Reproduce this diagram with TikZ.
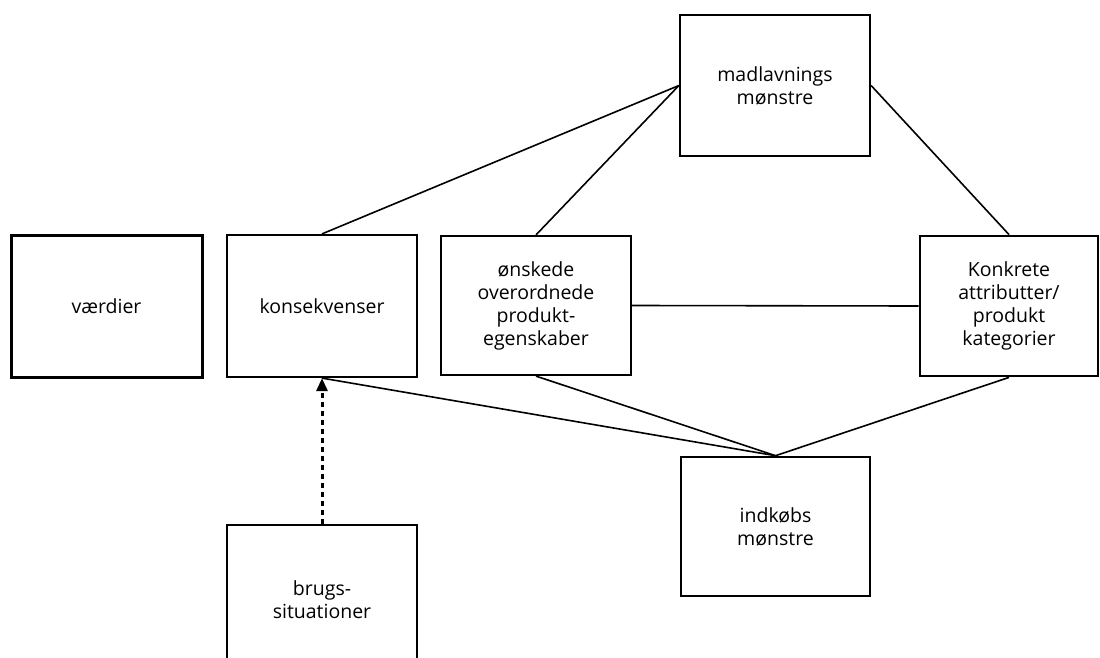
\documentclass[tikz,border=0pt]{standalone}
\usepackage{fontspec}
\setmainfont{Open Sans}
\usetikzlibrary{arrows.meta}
\begin{document}
\begin{tikzpicture}[x=1pt,y=-1pt,
  box/.style={draw=black,line width=2.2pt,inner sep=0pt,align=center,
    font=\fontsize{19.5}{23}\selectfont},
  conn/.style={draw=black,line width=1.6pt},
  dotarrow/.style={draw=black,line width=3pt,dash pattern=on 5pt off 4pt,
    -{Triangle[length=13pt,width=11pt]}}]
\useasboundingbox (0,0) rectangle (1100,658);
\fill[white] (0,0) rectangle (1100,658);
\clip (0,0) rectangle (1100,658);

\node[box,line width=3pt,minimum width=191pt,minimum height=142pt] (vaerdier) at (106.5,306) {værdier};
\node[box,minimum width=190pt,minimum height=142pt] (kons) at (322,306) {konsekvenser};
\node[box,minimum width=190pt,minimum height=139pt] (onsk) at (536,305.5) {ønskede\\overordnede\\produkt-\\egenskaber};
\node[box,line width=2.8pt,minimum width=178pt,minimum height=140pt] (konk) at (1009,306) {Konkrete\\attributter/\\produkt\\kategorier};
\node[box,minimum width=190pt,minimum height=141pt] (madl) at (775,85.5) {madlavnings\\mønstre};
\node[box,line width=2.6pt,minimum width=189pt,minimum height=139pt] (indk) at (775.5,526.5) {indkøbs\\mønstre};
\node[box,minimum width=190pt,minimum height=150pt] (brugs) at (322,600) {brugs-\\situationer};

\draw[conn] (madl.west) -- (kons.north);
\draw[conn] (madl.west) -- (onsk.north);
\draw[conn] (madl.east) -- (konk.north);
\draw[conn] (onsk.east) -- (konk.west);
\draw[conn] (kons.south) -- (indk.north);
\draw[conn] (onsk.south) -- (indk.north);
\draw[conn] (konk.south) -- (indk.north);
\draw[dotarrow] (brugs.north) -- (kons.south);
\end{tikzpicture}
\end{document}
